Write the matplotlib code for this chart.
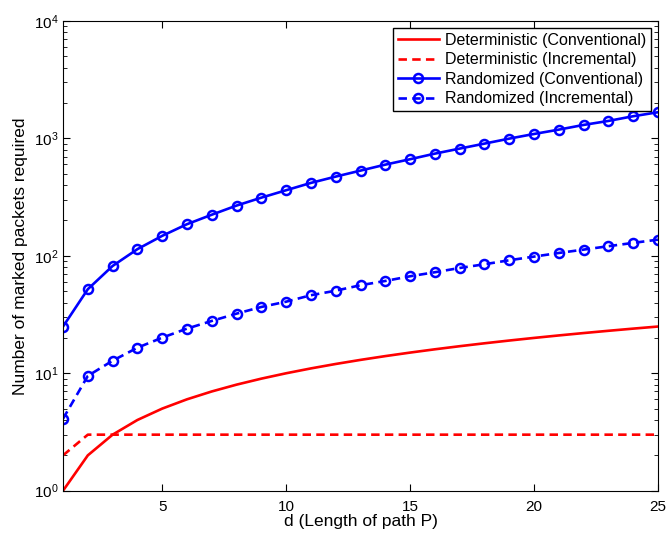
import matplotlib
matplotlib.use("Agg")
import matplotlib.pyplot as plt
from matplotlib.ticker import LogLocator, NullFormatter

plt.rcParams['font.family'] = ['Liberation Sans', 'DejaVu Sans']
plt.rcParams['mathtext.fontset'] = 'custom'
plt.rcParams['mathtext.rm'] = 'Liberation Sans'
plt.rcParams['mathtext.it'] = 'Liberation Sans:italic'

d = list(range(1, 26))
det_conv = list(range(1, 26))
det_incr = [2] + [3] * 24
rand_conv = [25, 52, 82, 114, 148, 186, 224, 268, 313, 362, 418, 473, 532,
             598, 665, 742, 819, 903, 996, 1091, 1188, 1303, 1409, 1545, 1671]
rand_incr = [4.1, 9.5, 12.8, 16.5, 20.1, 24, 27.9, 32.2, 36.7, 40.7, 46.2, 50.5, 56.2,
             61.1, 67, 72.5, 78.8, 84.8, 91.7, 98.5, 105.8, 113, 120.8, 128.9, 137.4]
labels = ['Deterministic (Conventional)', 'Deterministic (Incremental)',
          'Randomized (Conventional)', 'Randomized (Incremental)']

fig = plt.figure(figsize=(6.67, 5.34), dpi=100)
ax = fig.add_axes([0.0945, 0.0811, 0.892, 0.8796])

dash = (0, (3.2, 2.0))
lw = 1.9
ax.plot(d, det_conv, color='#ff0000', lw=lw, label=labels[0])
ax.plot(d, det_incr, color='#ff0000', lw=lw, ls=dash, label=labels[1])
ax.plot(d, rand_conv, color='#0000ff', lw=lw, marker='o', ms=6.5, mfc='none',
        mew=1.8, label=labels[2])
ax.plot(d, rand_incr, color='#0000ff', lw=lw, ls=dash, marker='o', ms=6.5, mfc='none',
        mew=1.8, label=labels[3])

ax.set_yscale('log')
ax.set_xlim(1, 25)
ax.set_ylim(1, 1e4)
ax.set_xticks([5, 10, 15, 20, 25])
ax.yaxis.set_major_locator(LogLocator(base=10, numticks=10))
ax.yaxis.set_minor_locator(LogLocator(base=10, subs=range(2, 10), numticks=100))
ax.yaxis.set_minor_formatter(NullFormatter())
ax.tick_params(which='both', direction='in', top=True, right=True, labelsize=11)
ax.tick_params(axis='x', pad=7)
ax.tick_params(which='major', length=5, width=0.8)
ax.tick_params(which='minor', length=3, width=0.6)

ax.set_xlabel('d (Length of path P)', fontsize=12.5, labelpad=0)
ax.set_ylabel('Number of marked packets required', fontsize=12.5, labelpad=4)

leg = ax.legend(loc='upper right', fontsize=11.5, frameon=True, fancybox=False,
                edgecolor='black', framealpha=1, borderpad=0.3, labelspacing=0.28,
                handlelength=2.6, handletextpad=0.35, borderaxespad=0.45)
leg.get_frame().set_linewidth(1.0)

fig.savefig('out.png', dpi=100)
